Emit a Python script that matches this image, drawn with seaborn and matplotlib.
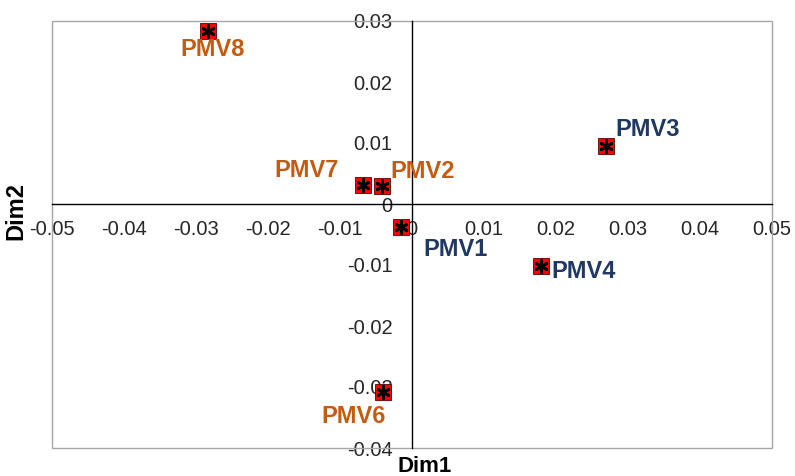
import matplotlib
matplotlib.use("Agg")
import matplotlib.pyplot as plt
import seaborn as sns
import pandas as pd
from matplotlib.patches import Rectangle

labels = ["PMV1", "PMV2", "PMV3", "PMV4", "PMV6", "PMV7", "PMV8"]
dim1 = [-0.00146, -0.00410, 0.02701, 0.01785, -0.00403, -0.00674, -0.02833]
dim2 = [-0.00385, 0.00287, 0.00951, -0.01016, -0.03074, 0.00311, 0.02844]
groups = ["blue", "orange", "blue", "blue", "orange", "orange", "orange"]
x_ticks = [-0.05, -0.04, -0.03, -0.02, -0.01, 0, 0.01, 0.02, 0.03, 0.04, 0.05]
y_ticks = [-0.04, -0.03, -0.02, -0.01, 0, 0.01, 0.02, 0.03]
x_tick_labels = ["-0.05", "-0.04", "-0.03", "-0.02", "-0.01", "0", "0.01", "0.02", "0.03", "0.04", "0.05"]
y_tick_labels = ["-0.04", "-0.03", "-0.02", "-0.01", "0", "0.01", "0.02", "0.03"]
# label offsets in pixels (dx, dy up)
offsets = {"PMV1": (54.5, -22.5), "PMV2": (40, 14.5), "PMV3": (41.5, 16),
           "PMV4": (43.5, -6), "PMV6": (-29, -24.5), "PMV7": (-56.5, 15),
           "PMV8": (5, -18.5)}
colors = {"blue": "#1F3864", "orange": "#C55A11"}

df = pd.DataFrame({"Dim1": dim1, "Dim2": dim2, "label": labels, "group": groups})

sns.set_theme(style="white")
plt.rcParams["font.family"] = ["Liberation Sans", "DejaVu Sans"]

fig = plt.figure(figsize=(7.95, 4.76), dpi=100)
ax = fig.add_axes([52 / 795, (476 - 448) / 476, 720 / 795, 427 / 476])
ax.set_xlim(-0.05, 0.05)
ax.set_ylim(-0.04, 0.03)

sns.scatterplot(data=df, x="Dim1", y="Dim2", ax=ax, marker="s", s=125,
                color="#FF0000", edgecolor="#600000", linewidth=0.6,
                zorder=5, legend=False, clip_on=False)
sns.scatterplot(data=df, x="Dim1", y="Dim2", ax=ax, marker=(6, 2, 0), s=75,
                color="black", edgecolor="black", linewidth=2.0,
                zorder=6, legend=False, clip_on=False)

for _, r in df.iterrows():
    dx, dy = offsets[r["label"]]
    ax.annotate(r["label"], (r["Dim1"], r["Dim2"]), xytext=(dx, dy),
                textcoords="offset pixels", ha="center", va="center",
                fontsize=17, fontweight="bold", color=colors[r["group"]],
                zorder=7, annotation_clip=False)

for s in ["top", "right"]:
    ax.spines[s].set_visible(False)
ax.spines["left"].set_position(("data", 0))
ax.spines["bottom"].set_position(("data", 0))
for s in ["left", "bottom"]:
    ax.spines[s].set_color("black")
    ax.spines[s].set_linewidth(1.0)
    ax.spines[s].set_zorder(2)

ax.add_patch(Rectangle((0, 0), 1, 1, transform=ax.transAxes, fill=False,
                       edgecolor="#A6A6A6", linewidth=1.0, zorder=1, clip_on=False))

ax.set_xticks(x_ticks)
ax.set_xticklabels(x_tick_labels)
ax.set_yticks(y_ticks)
ax.set_yticklabels(y_tick_labels)
ax.tick_params(axis="both", direction="inout", length=10, width=1.0,
               color="black", labelsize=14.5, labelcolor="#262626")
ax.tick_params(axis="x", pad=6.5)
ax.tick_params(axis="y", pad=9)
ax.set_xlabel("")
ax.set_ylabel("")

fig.text(425 / 795, 1 - 467 / 476, "Dim1", ha="center", va="center",
         fontsize=16, fontweight="bold", color="black")
fig.text(16 / 795, 1 - 211 / 476, "Dim2", ha="center", va="center",
         rotation=90, fontsize=17, fontweight="bold", color="black")

fig.savefig("out.png", dpi=100)
